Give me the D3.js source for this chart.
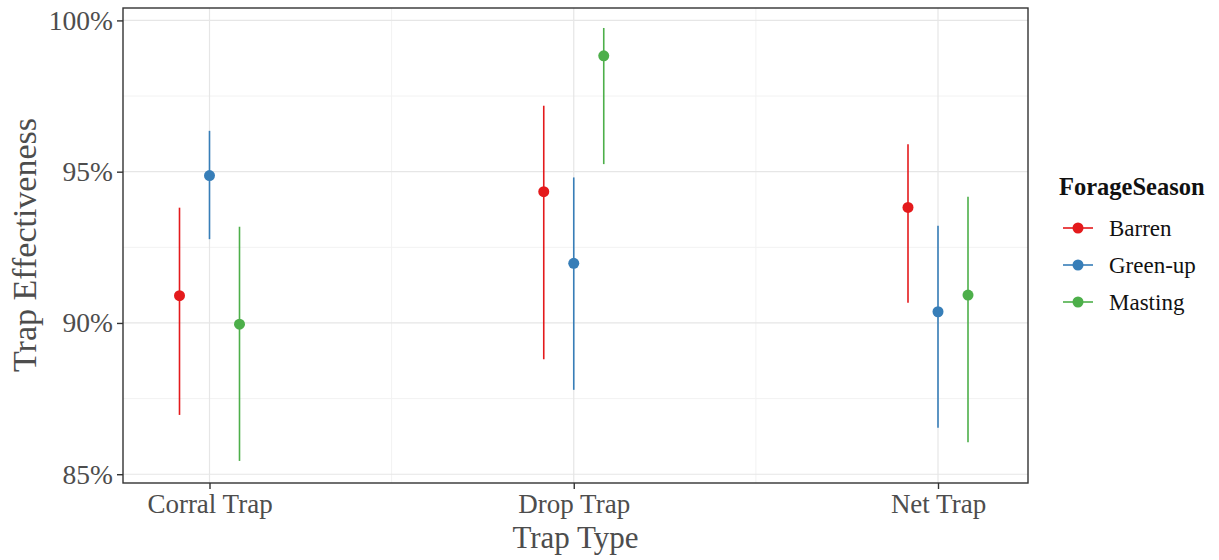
<!DOCTYPE html>
<html>
<head>
<meta charset="utf-8">
<script src="https://cdn.jsdelivr.net/npm/d3@7"></script>
<style>
  body { margin: 0; background: #fff; }
  text { font-family: "Liberation Serif", "Times New Roman", serif; }
</style>
</head>
<body>
<svg id="chart" width="1219" height="560"></svg>
<script>
// data
const trapTypes = ['Corral Trap', 'Drop Trap', 'Net Trap'];
const seasons = ['Barren', 'Green-up', 'Masting'];
const seasonColors = ['#E41A1C', '#377EB8', '#4DAF4A'];

// estimate, lower, upper (percent), per trap type, per season
const barrenVals = [[90.90, 86.96, 93.81], [94.34, 88.80, 97.18], [93.82, 90.67, 95.91]];
const greenUpVals = [[94.87, 92.77, 96.35], [91.97, 87.79, 94.81], [90.37, 86.54, 93.21]];
const mastingVals = [[89.96, 85.44, 93.18], [98.83, 95.25, 99.75], [90.92, 86.06, 94.17]];

const yTicks = [85, 90, 95, 100];
const yMinor = [87.5, 92.5, 97.5];

const points = [];
[barrenVals, greenUpVals, mastingVals].forEach((series, si) => {
  series.forEach((v, ti) => {
    points.push({ trap: trapTypes[ti], season: seasons[si], est: v[0], lo: v[1], hi: v[2] });
  });
});

const svg = d3.select('#chart');
const panel = { left: 123, top: 8, right: 1028, bottom: 483 };

const y = d3.scaleLinear()
  .domain([84.71, 100.41])
  .range([panel.bottom, panel.top]);

const x = d3.scalePoint()
  .domain(trapTypes)
  .range([209.5, 938])
  .padding(0);

const dodge = d3.scalePoint()
  .domain(seasons)
  .range([-30, 30]);

const color = d3.scaleOrdinal().domain(seasons).range(seasonColors);

// grid
const grid = svg.append('g');
yMinor.forEach(v => {
  grid.append('line')
    .attr('x1', panel.left).attr('x2', panel.right)
    .attr('y1', y(v)).attr('y2', y(v))
    .attr('stroke', '#f2f2f2').attr('stroke-width', 1);
});
const step = x(trapTypes[1]) - x(trapTypes[0]);
trapTypes.slice(0, -1).forEach(t => {
  grid.append('line')
    .attr('x1', x(t) + step / 2).attr('x2', x(t) + step / 2)
    .attr('y1', panel.top).attr('y2', panel.bottom)
    .attr('stroke', '#f2f2f2').attr('stroke-width', 1);
});
yTicks.forEach(v => {
  grid.append('line')
    .attr('x1', panel.left).attr('x2', panel.right)
    .attr('y1', y(v)).attr('y2', y(v))
    .attr('stroke', '#e6e6e6').attr('stroke-width', 1.2);
});
trapTypes.forEach(t => {
  grid.append('line')
    .attr('x1', x(t)).attr('x2', x(t))
    .attr('y1', panel.top).attr('y2', panel.bottom)
    .attr('stroke', '#e6e6e6').attr('stroke-width', 1.2);
});

// error bars and points
const marks = svg.append('g');
marks.selectAll('.err')
  .data(points)
  .enter().append('line')
  .attr('class', 'err')
  .attr('x1', d => x(d.trap) + dodge(d.season))
  .attr('x2', d => x(d.trap) + dodge(d.season))
  .attr('y1', d => y(d.lo))
  .attr('y2', d => y(d.hi))
  .attr('stroke', d => color(d.season))
  .attr('stroke-width', 1.6);

marks.selectAll('.pt')
  .data(points)
  .enter().append('circle')
  .attr('class', 'pt')
  .attr('cx', d => x(d.trap) + dodge(d.season))
  .attr('cy', d => y(d.est))
  .attr('r', 5.5)
  .attr('fill', d => color(d.season));

// panel border
svg.append('rect')
  .attr('x', panel.left).attr('y', panel.top)
  .attr('width', panel.right - panel.left)
  .attr('height', panel.bottom - panel.top)
  .attr('fill', 'none')
  .attr('stroke', '#333')
  .attr('stroke-width', 1.4);

// axes
const yAxis = svg.append('g')
  .attr('transform', `translate(${panel.left}, 0)`)
  .call(d3.axisLeft(y).tickValues(yTicks).tickSize(6).tickPadding(4)
    .tickFormat(d => `${d}%`));
yAxis.select('.domain').remove();
yAxis.selectAll('.tick line').attr('stroke', '#333').attr('stroke-width', 1.4);
yAxis.selectAll('.tick text')
  .attr('fill', '#4d4d4d')
  .attr('font-size', 27.5)
  .style('font-family', '"Liberation Serif", serif');

const xAxis = svg.append('g')
  .attr('transform', `translate(0, ${panel.bottom})`)
  .call(d3.axisBottom(x).tickSize(6).tickPadding(5));
xAxis.select('.domain').remove();
xAxis.selectAll('.tick line').attr('stroke', '#333').attr('stroke-width', 1.4);
xAxis.selectAll('.tick text')
  .attr('fill', '#4d4d4d')
  .attr('font-size', 27)
  .style('font-family', '"Liberation Serif", serif');

// axis titles
svg.append('text')
  .attr('x', (panel.left + panel.right) / 2)
  .attr('y', 548)
  .attr('text-anchor', 'middle')
  .attr('font-size', 31)
  .attr('fill', '#4d4d4d')
  .text('Trap Type');

svg.append('text')
  .attr('transform', `translate(36, 245) rotate(-90)`)
  .attr('text-anchor', 'middle')
  .attr('font-size', 34)
  .attr('fill', '#4d4d4d')
  .text('Trap Effectiveness');

// legend
const legend = svg.append('g').attr('transform', 'translate(1059, 0)');
legend.append('text')
  .attr('x', 0).attr('y', 195)
  .attr('font-size', 24.5)
  .attr('font-weight', 'bold')
  .attr('fill', '#111')
  .text('ForageSeason');

const item = legend.selectAll('.item')
  .data(seasons)
  .enter().append('g')
  .attr('class', 'item')
  .attr('transform', (d, i) => `translate(0, ${228 + i * 37})`);
item.append('line')
  .attr('x1', 4).attr('x2', 34)
  .attr('stroke', d => color(d)).attr('stroke-width', 1.6);
item.append('circle')
  .attr('cx', 19).attr('r', 5.5)
  .attr('fill', d => color(d));
item.append('text')
  .attr('x', 50).attr('dy', '0.35em')
  .attr('font-size', 23)
  .attr('fill', '#111')
  .text(d => d);
</script>
</body>
</html>
